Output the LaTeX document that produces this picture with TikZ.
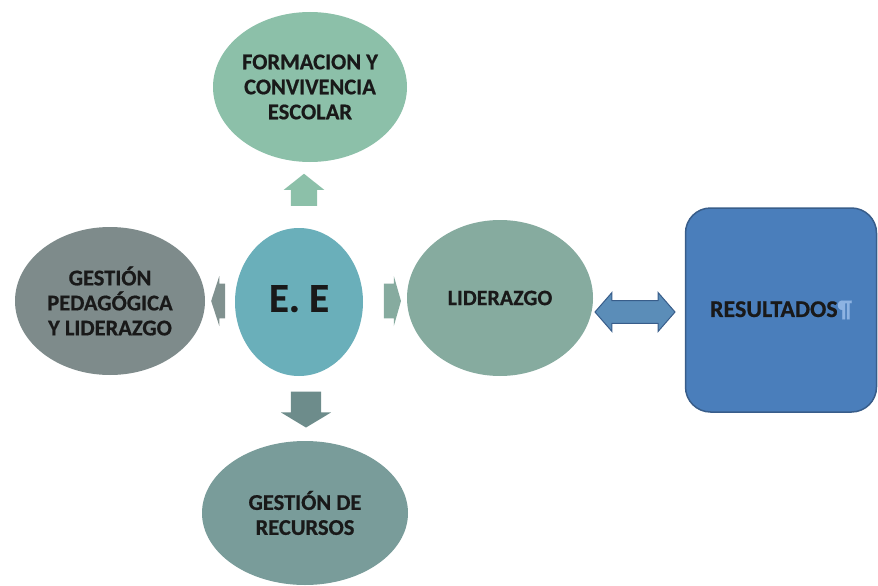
\documentclass[tikz,border=0pt]{standalone}
\usepackage{fontspec}
\setmainfont{Carlito}[BoldFeatures={FakeBold=0.6}]
\usetikzlibrary{shapes.geometric,shapes.arrows}

\definecolor{formcol}{HTML}{8CC0A9}
\definecolor{eecol}{HTML}{6AAFBA}
\definecolor{pedcol}{HTML}{7E8B8B}
\definecolor{lidcol}{HTML}{86AB9F}
\definecolor{reccol}{HTML}{799C9A}
\definecolor{rescol}{HTML}{4A7EBB}
\definecolor{resline}{HTML}{385D8A}
\definecolor{dblcol}{HTML}{5B8DB8}
\definecolor{pilcol}{HTML}{8DB3E2}

\tikzset{
  bubble/.style={ellipse, inner sep=0pt, align=center, text=black!90,
    font=\bfseries\fontsize{22.5}{25}\selectfont},
  blockarrow/.style={single arrow, inner sep=0pt},
}
\newcommand{\shaft}[1]{\rule{0pt}{#1}}

\begin{document}
\begin{tikzpicture}[x=1pt, y=-1pt]

\useasboundingbox (0,0) rectangle (878,586);

\node[bubble, fill=formcol, minimum width=194pt, minimum height=150pt] (form) at (310,87) {FORMACION Y\\CONVIVENCIA\\ESCOLAR};
\node[bubble, fill=eecol, minimum width=128pt, minimum height=148pt, font=\bfseries\fontsize{41}{44}\selectfont] (ee) at (299,302) {E. E\vphantom{g}};
\node[bubble, fill=pedcol, minimum width=190pt, minimum height=148pt] (ped) at (110,301) {GESTIÓN\\PEDAGÓGICA\\Y LIDERAZGO};
\node[bubble, fill=lidcol, minimum width=186pt, minimum height=156pt, font=\bfseries\fontsize{22}{25}\selectfont] (lid) at (500,298) {LIDERAZGO};
\node[bubble, fill=reccol, minimum width=206pt, minimum height=144pt] (rec) at (305,513) {GESTIÓN DE\\RECURSOS};

\node[draw=resline, line width=1.5pt, fill=rescol, rounded corners=25pt,
  minimum width=191pt, minimum height=204pt, text=black!90,
  font=\bfseries\fontsize{24}{25}\selectfont] (res) at (781,310)
  {RESULTADOS\textcolor{pilcol}{¶}};

% flechas
\node[blockarrow, fill=formcol, rotate=90, minimum height=32pt, minimum width=40pt, single arrow tip angle=103] (aup) at (304,195) {\shaft{26pt}};
\node[blockarrow, fill=pedcol!80!lidcol, rotate=180, minimum height=14pt, minimum width=50pt, single arrow tip angle=144] (aleft) at (221,301) {\shaft{32pt}};
\node[blockarrow, fill=lidcol, minimum height=17pt, minimum width=50pt, single arrow tip angle=148] (aright) at (390,301) {\shaft{32pt}};
\node[blockarrow, fill=reccol!90!black, rotate=270, minimum height=36pt, minimum width=50pt, single arrow tip angle=118] (adown) at (306,405) {\shaft{21pt}};

\node[double arrow, draw=resline, fill=dblcol, inner sep=0pt, line width=1pt,
  minimum height=80pt, minimum width=39pt, double arrow tip angle=98] (adbl) at (635,312) {\shaft{19pt}};

\end{tikzpicture}
\end{document}
